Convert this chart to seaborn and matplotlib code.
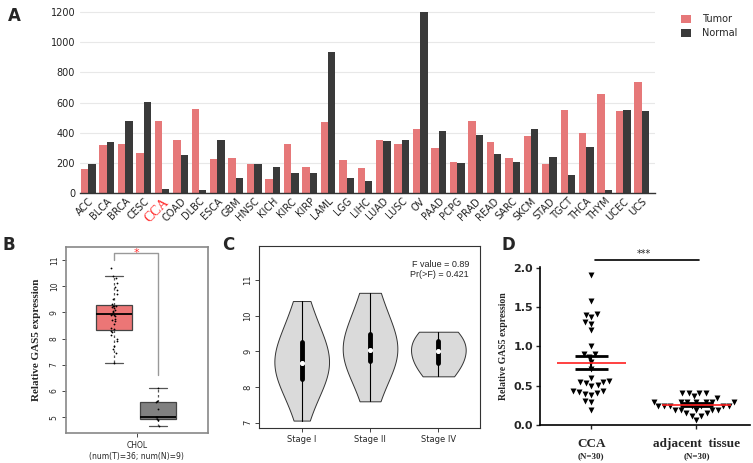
import numpy as np
import pandas as pd
import matplotlib.pyplot as plt
import seaborn as sns

# ---- Panel A: GAS5 expression across TCGA cancers ----
cancers = ['ACC', 'BLCA', 'BRCA', 'CESC', 'CCA', 'COAD', 'DLBC', 'ESCA', 'GBM', 'HNSC',
           'KICH', 'KIRC', 'KIRP', 'LAML', 'LGG', 'LIHC', 'LUAD', 'LUSC', 'OV', 'PAAD',
           'PCPG', 'PRAD', 'READ', 'SARC', 'SKCM', 'STAD', 'TGCT', 'THCA', 'THYM', 'UCEC', 'UCS']
tumor_tpm = [160, 320, 329, 265, 480, 351, 559, 228, 233, 197, 94, 329, 173, 469, 217, 169,
             353, 325, 426, 298, 206, 480, 338, 233, 382, 197, 548, 399, 654, 542, 735]
normal_tpm = [191, 336, 476, 605, 31, 252, 22, 351, 103, 193, 171, 132, 136, 937, 103, 81,
              349, 355, 1200, 415, 200, 388, 257, 208, 426, 237, 118, 309, 22, 548, 546]

# ---- Panel B: CHOL tumour vs normal ----
chol_tumor = [7.07, 7.45, 7.6, 7.7, 7.9, 8.0, 8.15, 8.25, 8.3, 8.35, 8.4, 8.55, 8.65, 8.7,
              8.75, 8.85, 8.9, 8.9, 8.95, 9.0, 9.05, 9.1, 9.15, 9.2, 9.25, 9.25, 9.25, 9.3,
              9.5, 9.7, 9.85, 9.95, 10.1, 10.3, 10.4, 10.7]
chol_normal = [4.65, 4.9, 4.95, 5.0, 5.02, 5.3, 5.6, 5.62, 6.12]

# ---- Panel C: expression by stage ----
stage_1 = [7.06, 7.5, 7.8, 8.0, 8.2, 8.25, 8.4, 8.55, 8.65, 8.68, 8.8, 8.95, 9.1, 9.25,
           9.3, 9.5, 9.8, 10.1, 10.41]
stage_2 = [7.6, 8.5, 8.73, 8.9, 9.04, 9.25, 9.5, 10.0, 10.64]
stage_4 = [8.3, 8.6, 8.75, 9.0, 9.25, 9.35, 9.55]
stage_names = ['Stage I', 'Stage II', 'Stage IV']

# ---- Panel D: qPCR CCA vs adjacent tissue ----
cca_rel = [1.90, 1.57, 1.41, 1.40, 1.37, 1.31, 1.29, 1.21, 1.01, 0.91, 0.90, 0.87, 0.80,
           0.71, 0.60, 0.56, 0.55, 0.55, 0.53, 0.51, 0.50, 0.44, 0.43, 0.42, 0.41, 0.40,
           0.39, 0.31, 0.30, 0.20]
adj_rel = [0.41, 0.41, 0.41, 0.41, 0.37, 0.34, 0.30, 0.30, 0.30, 0.30, 0.30, 0.30, 0.30,
           0.25, 0.25, 0.25, 0.25, 0.25, 0.25, 0.25, 0.20, 0.20, 0.20, 0.20, 0.20, 0.15,
           0.15, 0.12, 0.12, 0.07]

red = '#F86667'
dark = '#3A3A3A'

sns.set_theme(style='white')
plt.rcParams['font.family'] = ['DejaVu Sans']
serif = 'Liberation Serif'

fig = plt.figure(figsize=(7.53, 4.63), dpi=100)

# ================= A =================
axA = fig.add_axes([0.1062, 0.5825, 0.7636, 0.3937])
dfA = pd.DataFrame({
    'cancer': cancers * 2,
    'tpm': tumor_tpm + normal_tpm,
    'type': ['Tumor'] * len(cancers) + ['Normal'] * len(cancers),
})
sns.barplot(data=dfA, x='cancer', y='tpm', hue='type', palette={'Tumor': red, 'Normal': dark},
            width=0.8, gap=0, linewidth=0, ax=axA)
axA.set_xlim(-0.45, 30.72)
axA.set_ylim(0, 1205)
axA.set_yticks([0, 200, 400, 600, 800, 1000, 1200])
axA.yaxis.grid(True, color='#e8e8e8', linewidth=0.8)
axA.set_axisbelow(True)
for s in ['top', 'right', 'left']:
    axA.spines[s].set_visible(False)
axA.spines['bottom'].set_color('#333333')
axA.spines['bottom'].set_linewidth(1.0)
axA.tick_params(axis='both', length=0, labelsize=7, colors='#222222')
axA.tick_params(axis='x', pad=2)
axA.set_xlabel('')
axA.set_ylabel('')
for lab in axA.get_xticklabels():
    lab.set_rotation(45)
    lab.set_ha('right')
    lab.set_rotation_mode('anchor')
    if lab.get_text() == 'CCA':
        lab.set_color('#FF2A2A')
        lab.set_fontfamily(serif)
        lab.set_fontsize(10)
axA.legend(loc='upper left', bbox_to_anchor=(1.03, 1.03), frameon=False, fontsize=7,
           handlelength=1.0, handleheight=1.0, handletextpad=1.2, labelspacing=0.4)

# ================= B =================
axB = fig.add_axes([0.0873, 0.0648, 0.189, 0.4024])
dfB = pd.DataFrame({
    'tissue': ['Tumor'] * len(chol_tumor) + ['Normal'] * len(chol_normal),
    'expr': chol_tumor + chol_normal,
})
sns.boxplot(data=dfB, x='tissue', y='expr', hue='tissue',
            palette={'Tumor': '#FF6363', 'Normal': '#808080'}, width=0.8,
            showfliers=False, linecolor='#444444', linewidth=0.9,
            whiskerprops=dict(linestyle=(0, (2, 2)), color='#555555'),
            medianprops=dict(color='black', linewidth=1.3),
            capprops=dict(color='#555555'), legend=False, ax=axB)
np.random.seed(3)
sns.stripplot(data=dfB, x='tissue', y='expr', color='black', size=1.3, jitter=0.08, ax=axB)
axB.set_xlim(-1.1, 2.14)
axB.set_ylim(4.4, 11.5)
axB.set_yticks([5, 6, 7, 8, 9, 10, 11])
axB.set_xticks([0.52])
axB.set_xticklabels(['CHOL\n(num(T)=36; num(N)=9)'], fontsize=5.5, linespacing=1.3)
for lab in axB.get_yticklabels():
    lab.set_rotation(90)
    lab.set_va('center')
axB.tick_params(axis='y', labelsize=5.5, length=3, width=0.6, direction='out', left=True, pad=2)
axB.tick_params(axis='x', length=3, width=0.6, direction='out', bottom=True, pad=3)
for s in axB.spines.values():
    s.set_color('#888888')
    s.set_linewidth(1.2)
axB.set_xlabel('')
axB.set_ylabel('Relative GAS5 expression', fontfamily=serif, fontweight='bold', fontsize=8,
               labelpad=6)
# significance bracket
axB.plot([0, 0, 1, 1], [10.98, 11.26, 11.26, 6.6], color='#999999', linewidth=1.0)
axB.text(0.5, 11.26, '*', color='#FF3030', ha='center', va='center', fontsize=8)

# ================= C =================
axC = fig.add_axes([0.3444, 0.0762, 0.2931, 0.3931])
dfC = pd.DataFrame({
    'stage': [stage_names[0]] * len(stage_1) + [stage_names[1]] * len(stage_2)
             + [stage_names[2]] * len(stage_4),
    'expr': stage_1 + stage_2 + stage_4,
})
sns.violinplot(data=dfC, x='stage', y='expr', color='#DADADA', linecolor='#333333',
               linewidth=0.7, cut=0, density_norm='width', width=0.8, bw_adjust=1.35,
               inner='box', inner_kws=dict(box_width=3.5, whis_width=0.8, marker='o',
                                           color='black'), ax=axC)
axC.set_xlim(-0.62, 2.61)
axC.set_ylim(6.86, 11.96)
axC.set_yticks([7, 8, 9, 10, 11])
for lab in axC.get_yticklabels():
    lab.set_rotation(90)
    lab.set_va('center')
axC.tick_params(axis='both', labelsize=6, length=3, width=0.6, direction='out',
                left=True, bottom=True, pad=2)
for s in axC.spines.values():
    s.set_color('#333333')
    s.set_linewidth(0.8)
axC.set_xlabel('')
axC.set_ylabel('')
axC.text(0.95, 0.92, 'F value = 0.89\nPr(>F) = 0.421', transform=axC.transAxes,
         ha='right', va='top', fontsize=6.5, fontfamily='Liberation Sans', linespacing=1.1)

# ================= D =================
axD = fig.add_axes([0.717, 0.0814, 0.279, 0.3425])
groups = ['CCA', 'adjacent  tissue']
dfD = pd.DataFrame({
    'group': [groups[0]] * len(cca_rel) + [groups[1]] * len(adj_rel),
    'expr': cca_rel + adj_rel,
})
sns.swarmplot(data=dfD, x='group', y='expr', color='black', marker='v', size=4.3,
              linewidth=0, ax=axD)
for i, vals in enumerate([cca_rel, adj_rel]):
    v = np.array(vals)
    m = v.mean()
    se = v.std(ddof=1) / np.sqrt(len(v))
    axD.hlines(m, i - 0.33, i + 0.33, color='#FF2020', linewidth=1.2, zorder=4)
    axD.hlines([m - se, m + se], i - 0.16, i + 0.16, color='black', linewidth=2.0, zorder=3)
    axD.vlines(i, m - se, m + se, color='black', linewidth=1.5, zorder=3)
axD.set_xlim(-0.49, 1.51)
axD.set_ylim(0, 2.01)
axD.set_yticks([0, 0.5, 1.0, 1.5, 2.0])
axD.set_yticklabels(['0.0', '0.5', '1.0', '1.5', '2.0'], fontweight='bold', fontsize=8)
axD.set_xticks([0, 1])
axD.set_xticklabels(groups, fontfamily=serif, fontweight='bold', fontsize=9.5)
axD.tick_params(axis='both', length=3, width=1, direction='out', left=True, bottom=True,
                pad=2)
axD.tick_params(axis='x', pad=6)
for i in range(2):
    axD.text(i, -0.345, '(N=30)', ha='center', va='top', fontfamily=serif,
             fontweight='bold', fontsize=6.5, transform=axD.transData, clip_on=False)
for s in ['top', 'right']:
    axD.spines[s].set_visible(False)
for s in ['left', 'bottom']:
    axD.spines[s].set_color('black')
    axD.spines[s].set_linewidth(1.2)
axD.set_xlabel('')
axD.set_ylabel('Relative GAS5 expression', fontfamily=serif, fontweight='bold', fontsize=7,
               labelpad=4)
axD.plot([0.03, 1.02], [2.09, 2.09], color='black', linewidth=1.2, clip_on=False)
axD.text(0.5, 2.11, '***', ha='center', va='bottom', fontsize=7, clip_on=False)

# panel letters
for x, y, t in [(0.011, 0.985, 'A'), (0.003, 0.49, 'B'), (0.295, 0.49, 'C'), (0.666, 0.49, 'D')]:
    fig.text(x, y, t, fontsize=12, fontweight='bold', va='top', ha='left')

fig.savefig('out.png', dpi=100)
